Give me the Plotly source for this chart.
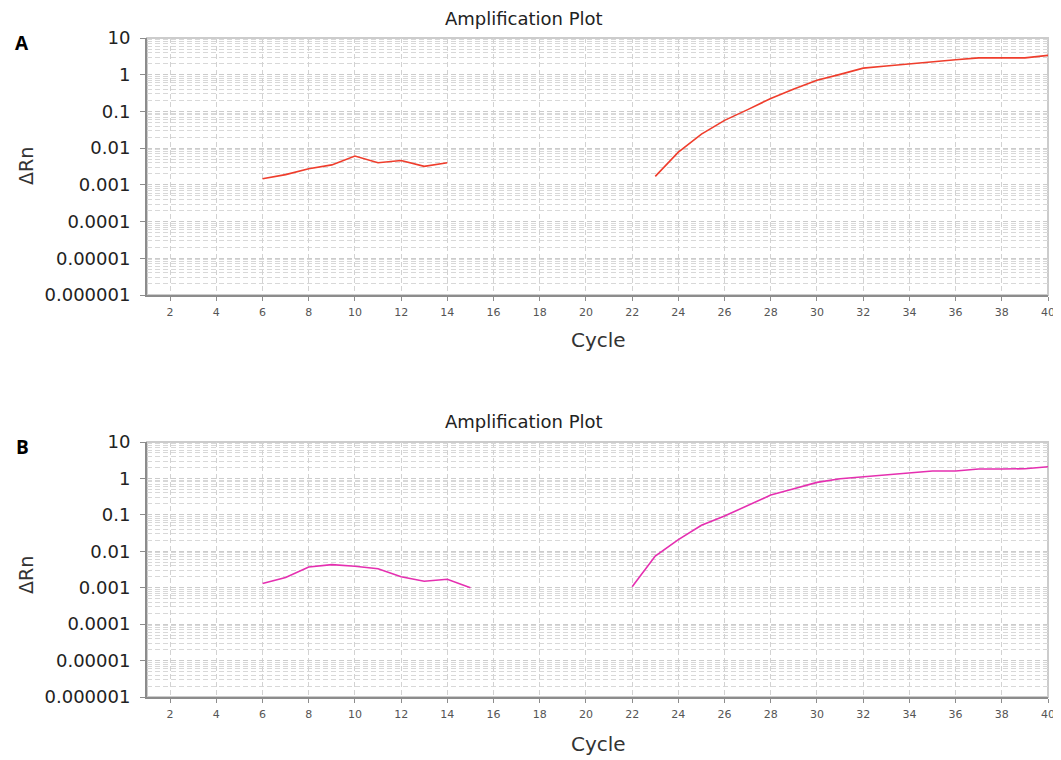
import plotly.graph_objects as go

# ---- data ----
cycles_a1 = [6, 7, 8, 9, 10, 11, 12, 13, 14]
drn_a1 = [0.00147, 0.0019, 0.00275, 0.0035, 0.0061, 0.0040, 0.0046, 0.0032, 0.0040]
cycles_a2 = list(range(23, 41))
drn_a2 = [0.0017, 0.0078, 0.024, 0.057, 0.112, 0.225, 0.41, 0.71, 1.02, 1.51,
          1.72, 1.99, 2.25, 2.55, 2.88, 2.88, 2.88, 3.37]

cycles_b1 = [6, 7, 8, 9, 10, 11, 12, 13, 14, 15]
drn_b1 = [0.0013, 0.0019, 0.0037, 0.0043, 0.0039, 0.0033, 0.0020, 0.0015, 0.0017, 0.0010]
cycles_b2 = list(range(22, 41))
drn_b2 = [0.00106, 0.0074, 0.021, 0.052, 0.093, 0.18, 0.35, 0.52, 0.78, 0.98,
          1.11, 1.26, 1.41, 1.60, 1.60, 1.81, 1.81, 1.85, 2.09]

x_ticks = list(range(2, 41, 2))
y_tickvals = [10, 1, 0.1, 0.01, 0.001, 0.0001, 0.00001, 0.000001]
y_ticktext = ["10", "1", "0.1", "0.01", "0.001", "0.0001", "0.00001", "0.000001"]
panel_title = "Amplification Plot"
x_title = "Cycle"
y_title = "ΔRn"
panel_labels = ["A", "B"]

OFF = 8  # page body margin
W, H = 1061 - OFF, 760 - OFF
FONT = "DejaVu Sans"
COL_A = "#ef3d2c"
COL_B = "#e52fb0"
DASH = "5px,3px"

minor_vals = [m * 10 ** e for e in range(-6, 1) for m in range(2, 10)]


def px(x, y):
    return (x - OFF) / W, 1 - (y - OFF) / H


fig = go.Figure()
for xs, ys, col, ax in [
    (cycles_a1, drn_a1, COL_A, 1), (cycles_a2, drn_a2, COL_A, 1),
    (cycles_b1, drn_b1, COL_B, 2), (cycles_b2, drn_b2, COL_B, 2),
]:
    fig.add_trace(go.Scatter(
        x=xs, y=ys, mode="lines", line=dict(color=col, width=1.6),
        xaxis="x" if ax == 1 else "x2", yaxis="y" if ax == 1 else "y2",
        showlegend=False, hoverinfo="skip"))

x_dom = [px(147, 0)[0], px(1048, 0)[0]]
y_doms = [[px(0, 295)[1], px(0, 38)[1]], [px(0, 697)[1], px(0, 442)[1]]]


def xaxis_cfg(anchor):
    return dict(
        domain=x_dom, anchor=anchor, range=[1, 40], tickmode="array", tickvals=x_ticks,
        automargin=False,
        showgrid=True, gridcolor="#d2d2d2", griddash=DASH, gridwidth=1,
        zeroline=False, showline=True, linecolor="#8c8c8c", linewidth=2,
        ticks="outside", ticklen=4, tickcolor="#8c8c8c",
        tickfont=dict(family=FONT, size=11, color="#555555"), ticklabelstandoff=2,
    )


def yaxis_cfg(anchor, dom):
    return dict(
        domain=dom, anchor=anchor, type="log", range=[-6, 1],
        automargin=False,
        tickmode="array", tickvals=y_tickvals, ticktext=y_ticktext,
        showgrid=True, gridcolor="#cccccc", griddash=DASH, gridwidth=1,
        minor=dict(tickmode="array", tickvals=minor_vals, showgrid=True,
                   gridcolor="#d8d8d8", griddash=DASH, gridwidth=1, ticks=""),
        zeroline=False, showline=True, linecolor="#8c8c8c", linewidth=2,
        ticks="outside", ticklen=5, tickcolor="#8c8c8c",
        tickfont=dict(family=FONT, size=18, color="#222222"), ticklabelstandoff=6,
    )


fig.update_layout(
    width=W, height=H, margin=dict(l=0, r=0, t=0, b=0, autoexpand=False),
    paper_bgcolor="white", plot_bgcolor="white",
    xaxis=xaxis_cfg("y"), yaxis=yaxis_cfg("x", y_doms[0]),
    xaxis2=xaxis_cfg("y2"), yaxis2=yaxis_cfg("x2", y_doms[1]),
)

# light frame on top/right
for xr, yr in [("x domain", "y domain"), ("x2 domain", "y2 domain")]:
    fig.add_shape(type="rect", xref=xr, yref=yr, x0=0, x1=1, y0=0, y1=1,
                  line=dict(color="#cccccc", width=2), fillcolor="rgba(0,0,0,0)",
                  layer="below")

# panel titles, letters and axis titles
for ty, lab, ly, cy, ry in [(18, panel_labels[0], 43, 340, 166),
                            (422, panel_labels[1], 447, 744, 575)]:
    x, y = px(524, ty)
    fig.add_annotation(x=x, y=y, xref="paper", yref="paper", text=panel_title,
                       showarrow=False, font=dict(family=FONT, size=18, color="#222222"),
                       xanchor="center", yanchor="middle")
    x, y = px(22, ly)
    fig.add_annotation(x=x, y=y, xref="paper", yref="paper", text="<b>" + lab + "</b>",
                       showarrow=False, font=dict(family="Open Sans", size=19, color="#000000"),
                       xanchor="center", yanchor="middle")
    x, y = px(598, cy)
    fig.add_annotation(x=x, y=y, xref="paper", yref="paper", text=x_title,
                       showarrow=False, font=dict(family=FONT, size=20, color="#333333"),
                       xanchor="center", yanchor="middle")
    x, y = px(26, ry)
    fig.add_annotation(x=x, y=y, xref="paper", yref="paper", text=y_title, textangle=-90,
                       showarrow=False, font=dict(family=FONT, size=19, color="#333333"),
                       xanchor="center", yanchor="middle")

fig.write_html("out.html")
